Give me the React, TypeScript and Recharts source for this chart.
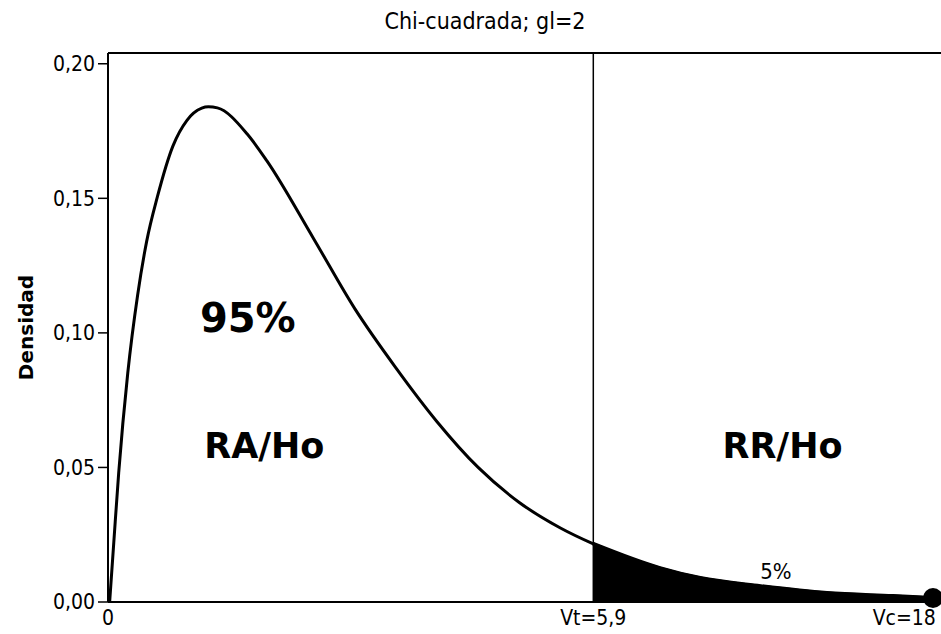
import { Area, ComposedChart, Line, ReferenceDot, ReferenceLine, XAxis, YAxis } from "recharts";

// chi-square density curve
const X_VALUES = [
    0.02, 0.07, 0.13, 0.24, 0.36, 0.47, 0.6, 0.79, 0.96, 1.14, 1.22, 1.33, 1.69, 1.93, 2.5, 3.0,
    3.5, 4.0, 4.5, 5.0, 5.5, 5.9, 6.71, 7.2, 7.93, 8.74, 9.54, 10.03,
];
const DENSITY = [
    0, 0.022, 0.048, 0.085, 0.114, 0.134, 0.1505, 0.1695, 0.179, 0.1835, 0.184, 0.1836, 0.174,
    0.164, 0.135, 0.109, 0.087, 0.067, 0.05, 0.037, 0.0275, 0.0216, 0.0126, 0.0089, 0.0059, 0.0033,
    0.0022, 0.0015,
];

const CRITICAL_X = 5.9;
const END_X = 10.03;
const END_Y = 0.0015;

const X_TICKS = [0, 5.9, 9.68];
const X_TICK_LABELS = ["0", "Vt=5,9", "Vc=18"];
const Y_TICKS = [0, 0.05, 0.1, 0.15, 0.2];

const TITLE = "Chi-cuadrada; gl=2";
const Y_LABEL = "Densidad";

const X_MAX = 10.2;
const Y_MAX = 0.204;

const FONT = "'DejaVu Sans Condensed', 'DejaVu Sans', sans-serif";
const BOLD_FONT = "'DejaVu Sans', sans-serif";

const rows = X_VALUES.map((x, i) => ({
    x,
    density: DENSITY[i],
    tail: x >= CRITICAL_X ? DENSITY[i] : null,
}));

const boldLabel = (value: string, size: number) => ({
    value,
    position: "center" as const,
    style: { fontFamily: BOLD_FONT, fontWeight: 700, fontSize: size, fill: "#000" },
});

export default function App() {
    return (
        <div style={{ position: "absolute", left: 0, top: 0, width: 941, height: 634, overflow: "hidden", background: "#fff" }}>
            <div
                style={{
                    position: "absolute",
                    left: 0,
                    width: 970,
                    top: 10,
                    textAlign: "center",
                    fontFamily: FONT,
                    fontSize: 23,
                    lineHeight: "23px",
                    color: "#000",
                }}
            >
                {TITLE}
            </div>
            <ComposedChart width={950} height={634} data={rows} margin={{ top: 53, right: 3, bottom: 0, left: 0 }}>
                <XAxis
                    dataKey="x"
                    type="number"
                    domain={[0, X_MAX]}
                    ticks={X_TICKS}
                    tickFormatter={(v) => X_TICK_LABELS[X_TICKS.indexOf(v)] ?? ""}
                    tickLine={false}
                    tickSize={6}
                    tickMargin={2}
                    height={32}
                    axisLine={{ stroke: "#000", strokeWidth: 2 }}
                    tick={{ fontSize: 21, fill: "#000", fontFamily: FONT }}
                    allowDataOverflow
                />
                <YAxis
                    type="number"
                    domain={[0, Y_MAX]}
                    ticks={Y_TICKS}
                    tickFormatter={(v) => v.toFixed(2).replace(".", ",")}
                    width={108}
                    tickSize={10}
                    tickMargin={3}
                    axisLine={{ stroke: "#000", strokeWidth: 2 }}
                    tickLine={{ stroke: "#000", strokeWidth: 1.5 }}
                    tick={{ fontSize: 21, fill: "#000", fontFamily: FONT }}
                    label={{
                        value: Y_LABEL,
                        angle: -90,
                        position: "insideLeft",
                        offset: 26,
                        style: { textAnchor: "middle", fontFamily: BOLD_FONT, fontWeight: 700, fontSize: 20, fill: "#000" },
                    }}
                    allowDataOverflow
                />

                {/* marco superior y línea del valor crítico */}
                <ReferenceLine y={Y_MAX} stroke="#000" strokeWidth={2} />
                <ReferenceLine x={CRITICAL_X} stroke="#000" strokeWidth={1.5} />

                <Area
                    dataKey="tail"
                    type="monotone"
                    stroke="#000"
                    strokeWidth={4}
                    fill="#000"
                    fillOpacity={1}
                    baseValue={0}
                    dot={false}
                    activeDot={false}
                    isAnimationActive={false}
                />
                <Line
                    dataKey="density"
                    type="monotone"
                    stroke="#000"
                    strokeWidth={3}
                    dot={false}
                    activeDot={false}
                    isAnimationActive={false}
                />

                <ReferenceDot x={END_X} y={END_Y} r={10} fill="#000" stroke="none" />

                {/* anotaciones */}
                <ReferenceDot x={1.7} y={0.1056} r={0} fill="none" stroke="none" label={boldLabel("95%", 40)} />
                <ReferenceDot x={1.9} y={0.058} r={0} fill="none" stroke="none" label={boldLabel("RA/Ho", 35)} />
                <ReferenceDot x={8.2} y={0.058} r={0} fill="none" stroke="none" label={boldLabel("RR/Ho", 35)} />
                <ReferenceDot
                    x={8.12}
                    y={0.0115}
                    r={0}
                    fill="none"
                    stroke="none"
                    label={{ value: "5%", position: "center", style: { fontFamily: FONT, fontSize: 22, fill: "#000" } }}
                />
            </ComposedChart>
        </div>
    );
}
